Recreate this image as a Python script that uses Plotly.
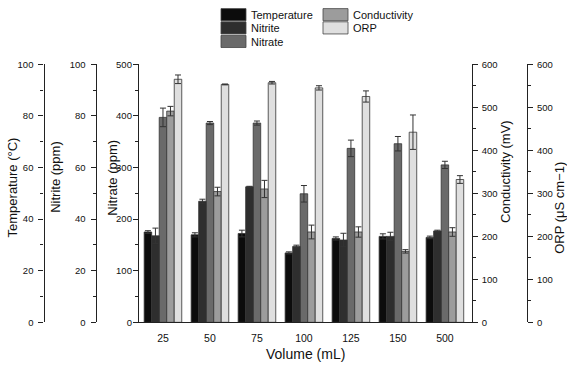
import plotly.graph_objects as go

W, H = 567, 371

volumes = ['25', '50', '75', '100', '125', '150', '500']

temperature = [35.0, 33.9, 34.4, 26.9, 32.5, 33.3, 32.9]
temperature_err = [0.5, 0.8, 1.3, 0.4, 0.6, 1.0, 0.5]
nitrite = [33.5, 46.9, 52.5, 29.4, 31.9, 33.3, 35.4]
nitrite_err = [3.0, 0.8, 0.2, 0.5, 2.6, 1.6, 0.3]
nitrate = [397, 386, 386, 249, 337, 346, 305]
nitrate_err = [18, 3, 4, 16, 16, 14, 7]
conductivity = [491, 304, 310, 210, 210, 165, 210]
conductivity_err = [11, 10, 20, 16, 12, 4, 10]
orp = [565, 553, 557, 545, 525, 442, 332]
orp_err = [10, 1, 3, 5, 13, 40, 9]

names = ['Temperature', 'Nitrite', 'Nitrate', 'Conductivity', 'ORP']
colors = ['#0c0c0c', '#2e2e2e', '#6a6a6a', '#9c9c9c', '#dfdfdf']
series = [(temperature, temperature_err, 'y'), (nitrite, nitrite_err, 'y2'),
          (nitrate, nitrate_err, 'y3'), (conductivity, conductivity_err, 'y4'),
          (orp, orp_err, 'y5')]

FONT = 'Liberation Sans, Arial, sans-serif'
LINE = '#222222'


def px(x):
    return x / W


def py(y):
    return 1 - y / H


fig = go.Figure()
bw = 0.16
for i, (vals, err, ax) in enumerate(series):
    fig.add_trace(go.Bar(
        x=volumes, y=vals, name=names[i], yaxis=ax,
        width=bw, offset=-0.4 + i * bw,
        marker=dict(color=colors[i], line=dict(color='#333333', width=0.8)),
        error_y=dict(type='data', array=err, color='#333333', thickness=1, width=3),
        showlegend=False,
    ))

xdom = [px(139), px(471.7)]
ydom = [py(326), py(60)]

tick_common = dict(
    showgrid=False, zeroline=False, showline=True, linecolor=LINE, linewidth=1.3,
    ticks='outside', ticklen=5, tickwidth=1.2, tickcolor=LINE,
    tickfont=dict(family=FONT, size=9.5, color='#111'),
    minor=dict(ticks='outside', ticklen=3, tickwidth=1.1, tickcolor=LINE),
)

fig.update_layout(
    width=W, height=H, autosize=False,
    margin=dict(l=0, r=0, t=0, b=0),
    paper_bgcolor='white', plot_bgcolor='white',
    font=dict(family=FONT, color='#111'),
    xaxis=dict(domain=xdom, type='category', range=[-0.51, 6.57],
               showgrid=False, zeroline=False, showline=True, linecolor=LINE,
               linewidth=1.3, ticks='', ticklabelstandoff=6,
               tickfont=dict(family=FONT, size=10.5, color='#111'),
               anchor='y3'),
    yaxis=dict(domain=ydom, range=[0, 100], dtick=20, anchor='free',
               position=px(43.5), side='left', overlaying='y3',
               minor_dtick=10, ticklabelstandoff=3, **tick_common),
    yaxis2=dict(domain=ydom, range=[0, 100], dtick=20, anchor='free',
                position=px(95.7), side='left', overlaying='y3',
                minor_dtick=10, ticklabelstandoff=3, **tick_common),
    yaxis3=dict(domain=ydom, range=[0, 500], dtick=100, anchor='x',
                side='left', minor_dtick=50, ticklabelstandoff=-1, **tick_common),
    yaxis4=dict(domain=ydom, range=[0, 600], dtick=100, anchor='x',
                side='right', overlaying='y3', minor_dtick=50,
                ticklabelstandoff=2, **tick_common),
    yaxis5=dict(domain=ydom, range=[0, 600], dtick=100, anchor='free',
                position=px(527), side='right', overlaying='y3', minor_dtick=50,
                ticklabelstandoff=2, **tick_common),
)

# axis titles
titles = [('Temperature (°C)', 12, 187), ('Nitrite (ppm)', 56, 176),
          ('Nitrate (ppm)', 113, 177), ('Conductivity (mV)', 506, 171),
          ('ORP (μS cm−1)', 560, 208)]
for text, x, y in titles:
    fig.add_annotation(text=text, x=px(x), y=py(y), xref='paper', yref='paper',
                       textangle=-90, showarrow=False, xanchor='center', yanchor='middle',
                       font=dict(family=FONT, size=13, color='#111'))
fig.add_annotation(text='Volume (mL)', x=px(305), y=py(359), xref='paper', yref='paper',
                   showarrow=False, xanchor='center', yanchor='middle',
                   font=dict(family=FONT, size=14, color='#111'))

# legend drawn by hand: two columns of patches
legend_pos = [(221, 2.7), (221, 16.3), (221, 30.3), (323, 2.7), (323, 16.3)]
for i, (lx, ly) in enumerate(legend_pos):
    fig.add_shape(type='rect', xref='paper', yref='paper',
                  x0=px(lx), x1=px(lx + 25), y0=py(ly + 12.5), y1=py(ly),
                  fillcolor=colors[i], line=dict(color='#444444', width=0.8))
    fig.add_annotation(text=names[i], x=px(lx + 28), y=py(ly + 6.5), xref='paper', yref='paper',
                       showarrow=False, xanchor='left', yanchor='middle',
                       font=dict(family=FONT, size=11, color='#111'))

# drop the page's default body margin so the figure sits at the top-left corner
fig.write_html('out.html', config={'displayModeBar': False},
               post_script="document.body.style.margin='0';document.body.style.overflow='hidden';")
